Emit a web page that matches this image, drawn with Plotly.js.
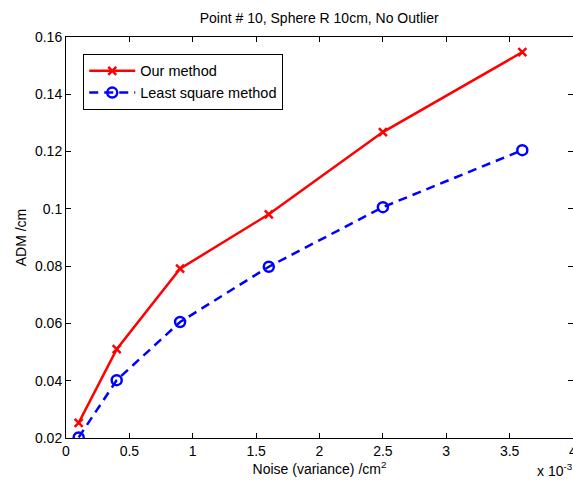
<!DOCTYPE html>
<html><head><meta charset="utf-8">
<script src="https://cdn.plot.ly/plotly-3.0.1.min.js"></script>
<style>body{margin:0;background:#fff}#c{width:573px;height:483px}</style>
</head><body><div id="c"></div>
<script>
const noise = [0.0001, 0.0004, 0.0009, 0.0016, 0.0025, 0.0036];
const ourMethod = [0.0253, 0.0510, 0.0791, 0.0981, 0.1268, 0.1547];
const leastSquare = [0.0202, 0.0402, 0.0605, 0.0798, 0.1006, 0.1205];
const xTickVals = [0, 0.0005, 0.001, 0.0015, 0.002, 0.0025, 0.003, 0.0035, 0.004];
const xTickText = ["0", "0.5", "1", "1.5", "2", "2.5", "3", "3.5", "4"];
const yTickVals = [0.02, 0.04, 0.06, 0.08, 0.1, 0.12, 0.14, 0.16];
const yTickText = ["0.02", "0.04", "0.06", "0.08", "0.1", "0.12", "0.14", "0.16"];

const font = "Liberation Sans, Arial, sans-serif";
const traces = [
  {x: noise, y: ourMethod, name: "Our method", mode: "lines+markers",
   line: {color: "#ff0000", width: 2.5},
   marker: {symbol: "x-thin", size: 8, color: "#ff0000", line: {color: "#ff0000", width: 2.5}}},
  {x: noise, y: leastSquare, name: "Least square method", mode: "lines+markers",
   line: {color: "#0000ff", width: 2.5, dash: "9px,6px"},
   marker: {symbol: "circle-open", size: 10, color: "#0000ff", line: {color: "#0000ff", width: 2.5}}}
];
const axisCommon = {showline: true, linecolor: "#000", linewidth: 1, mirror: "allticks",
  ticks: "inside", ticklen: 5, tickcolor: "#000", showgrid: false, zeroline: false,
  ticklabeloverflow: "allow",
  tickfont: {family: font, size: 14, color: "#000"}};
const layout = {
  width: 573, height: 483,
  margin: {l: 66, r: 0, t: 37, b: 45},
  paper_bgcolor: "#fff", plot_bgcolor: "#fff",
  font: {family: font, size: 14, color: "#000"},
  title: {text: "Point # 10, Sphere R 10cm, No Outlier", x: 0.557, xanchor: "center", y: 0.962, yanchor: "middle",
          font: {family: font, size: 14, color: "#000"}},
  xaxis: Object.assign({}, axisCommon, {range: [0, 0.004], tickvals: xTickVals, ticktext: xTickText,
    title: {text: "Noise (variance) /cm<sup>2</sup>", standoff: 3, font: {family: font, size: 14}}}),
  yaxis: Object.assign({}, axisCommon, {range: [0.02, 0.16], tickvals: yTickVals, ticktext: yTickText,
    title: {text: "ADM /cm", standoff: 5, font: {family: font, size: 14}}}),
  showlegend: true,
  legend: {x: 0.034, y: 0.958, xanchor: "left", yanchor: "top", bgcolor: "#fff",
    bordercolor: "#000", borderwidth: 1, font: {family: font, size: 14.5, color: "#000"},
    itemwidth: 46, tracegroupgap: 0},
  annotations: [{xref: "paper", yref: "paper", x: 0.926, y: -0.052, xanchor: "left", yanchor: "top",
    showarrow: false, text: "x 10<sup>-3</sup>", font: {family: font, size: 14, color: "#000"}}]
};
Plotly.newPlot("c", traces, layout, {displayModeBar: false, staticPlot: true});
</script></body></html>
